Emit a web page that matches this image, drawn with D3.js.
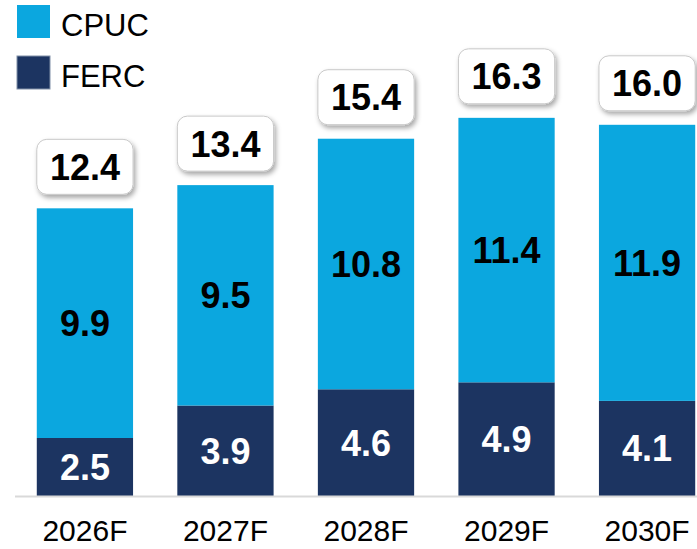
<!DOCTYPE html>
<html>
<head>
<meta charset="utf-8">
<script src="https://cdn.jsdelivr.net/npm/d3@7/dist/d3.min.js"></script>
<style>
  body { margin: 0; background: #fff; }
  svg { display: block; font-family: Arial, "Liberation Sans", sans-serif; }
</style>
</head>
<body>
<svg width="697" height="549"></svg>
<script>
let years = ["2026F","2027F","2028F","2029F","2030F"];
let ferc = [2.5, 3.9, 4.6, 4.9, 4.1];
let cpuc = [9.9, 9.5, 10.8, 11.4, 11.9];
let totals = ["12.4","13.4","15.4","16.3","16.0"];
let seriesNames = ["CPUC","FERC"];

let svg = d3.select("svg");
let cpucColor = "#0ba7df",
    fercColor = "#1c3461";

let x = d3.scaleBand()
    .domain(years)
    .range([15, 717])
    .paddingInner(0.315)
    .paddingOuter(0.155);

// 23.2 px per unit
let y = d3.scaleLinear().domain([0, 20]).range([496, 32]);

let defs = svg.append("defs");
let f = defs.append("filter").attr("id", "shadow")
    .attr("x", "-20%").attr("y", "-20%").attr("width", "150%").attr("height", "160%");
f.append("feDropShadow")
    .attr("dx", 2).attr("dy", 3).attr("stdDeviation", 2.5)
    .attr("flood-color", "#000").attr("flood-opacity", 0.35);

let rows = years.map((yr, i) => ({yr: yr, ferc: ferc[i], cpuc: cpuc[i], total: totals[i]}));

let g = svg.selectAll(".bar").data(rows).enter().append("g").attr("class", "bar");

// FERC segment
g.append("rect")
  .attr("x", d => x(d.yr))
  .attr("width", x.bandwidth())
  .attr("y", d => y(d.ferc))
  .attr("height", d => y(0) - y(d.ferc))
  .attr("fill", fercColor);

// CPUC segment
g.append("rect")
  .attr("x", d => x(d.yr))
  .attr("width", x.bandwidth())
  .attr("y", d => y(d.ferc + d.cpuc))
  .attr("height", d => y(d.ferc) - y(d.ferc + d.cpuc))
  .attr("fill", cpucColor);

g.append("text")
  .attr("x", d => x(d.yr) + x.bandwidth() / 2)
  .attr("y", d => (y(0) + y(d.ferc)) / 2 + 13)
  .attr("text-anchor", "middle")
  .attr("font-size", "36px").attr("font-weight", "bold")
  .attr("fill", "#fff")
  .text(d => d.ferc.toFixed(1));

g.append("text")
  .attr("x", d => x(d.yr) + x.bandwidth() / 2)
  .attr("y", d => (y(d.ferc) + y(d.ferc + d.cpuc)) / 2 + 13)
  .attr("text-anchor", "middle")
  .attr("font-size", "36px").attr("font-weight", "bold")
  .attr("fill", "#000")
  .text(d => d.cpuc.toFixed(1));

// total boxes
g.append("rect")
  .attr("x", d => x(d.yr))
  .attr("width", x.bandwidth())
  .attr("y", d => y(d.ferc + d.cpuc) - 14 - 55)
  .attr("height", 55)
  .attr("rx", 10)
  .attr("fill", "#fff")
  .attr("stroke", "#c8c8c8")
  .attr("stroke-width", 1)
  .attr("filter", "url(#shadow)");

g.append("text")
  .attr("x", d => x(d.yr) + x.bandwidth() / 2)
  .attr("y", d => y(d.ferc + d.cpuc) - 14 - 55 / 2 + 13)
  .attr("text-anchor", "middle")
  .attr("font-size", "36px").attr("font-weight", "bold")
  .attr("fill", "#000")
  .text(d => d.total);

// axis
let axis = svg.append("g")
  .attr("transform", "translate(0," + y(0) + ")")
  .call(d3.axisBottom(x).tickSize(0).tickPadding(24));
axis.select(".domain").attr("d", "M15,0.5H697").attr("stroke", "#d9d9d9").attr("stroke-width", 2);
axis.selectAll("text")
  .attr("font-size", "30px")
  .attr("font-family", "Arial, 'Liberation Sans', sans-serif")
  .attr("fill", "#000");

// legend
let legend = svg.selectAll(".legend").data(seriesNames).enter().append("g")
  .attr("transform", (d, i) => "translate(17," + (5 + i * 51) + ")");
legend.append("rect")
  .attr("width", 33).attr("height", 33)
  .attr("fill", (d, i) => i === 0 ? cpucColor : fercColor)
  .attr("stroke", (d, i) => i === 0 ? "none" : "#8090a8")
  .attr("stroke-width", 1);
legend.append("text")
  .attr("x", 44).attr("y", 31)
  .attr("font-size", "31px")
  .attr("fill", "#000")
  .text(d => d);
</script>
</body>
</html>
